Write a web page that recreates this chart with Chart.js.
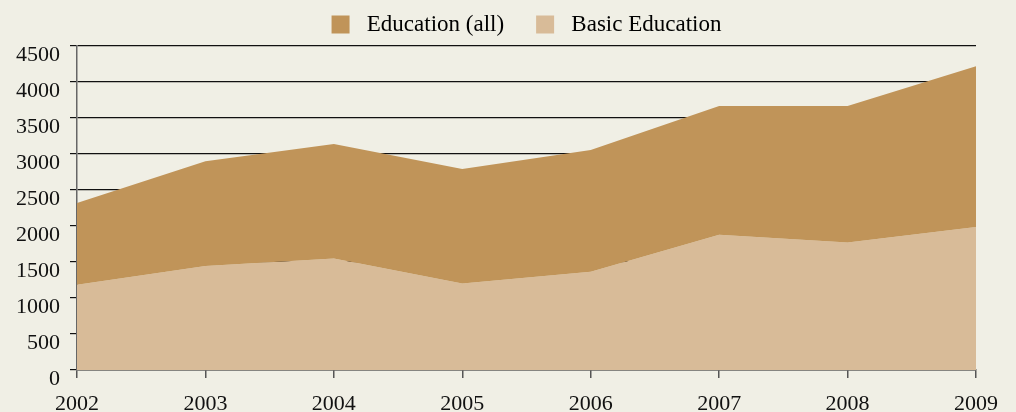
<!DOCTYPE html>
<html>
<head>
<meta charset="utf-8">
<script src="https://cdn.jsdelivr.net/npm/chart.js@4/dist/chart.umd.min.js"></script>
<style>
  html, body { margin: 0; padding: 0; background: #f0efe5; }
  canvas { display: block; }
</style>
</head>
<body>
<canvas id="chart" width="1016" height="412"></canvas>
<script>
const years = ['2002', '2003', '2004', '2005', '2006', '2007', '2008', '2009'];
const educationAll = [2320, 2900, 3140, 2790, 3055, 3665, 3665, 4220];
const basicEducation = [1185, 1445, 1550, 1200, 1365, 1880, 1770, 1985];
const yTicks = [0, 500, 1000, 1500, 2000, 2500, 3000, 3500, 4000, 4500];

const darkColor = '#c09459';
const lightColor = '#d8bb98';
const font = 'Liberation Serif, Times New Roman, serif';

const ctx = document.getElementById('chart').getContext('2d');

const chart = new Chart(ctx, {
  type: 'line',
  data: {
    labels: years,
    datasets: [
      {
        label: 'Education (all)',
        data: educationAll,
        backgroundColor: darkColor,
        borderWidth: 0,
        pointRadius: 0,
        fill: '+1',
        tension: 0
      },
      {
        label: 'Basic Education',
        data: basicEducation,
        backgroundColor: lightColor,
        borderWidth: 0,
        pointRadius: 0,
        fill: 'origin',
        tension: 0
      }
    ]
  },
  options: {
    responsive: false,
    animation: false,
    layout: { padding: { top: 4, right: 40, left: 0, bottom: 0 } },
    plugins: {
      tooltip: { enabled: false },
      legend: {
        position: 'top',
        fullSize: false,
        labels: {
          boxWidth: 18,
          boxHeight: 18,
          padding: 9,
          color: '#111',
          font: { family: font, size: 23 },
          // extra spaces widen the gap between the two entries
          generateLabels: chart => chart.data.datasets.map((ds, i) => ({
            text: ' ' + ds.label + (i === 0 ? '    ' : ''),
            fillStyle: ds.backgroundColor,
            strokeStyle: 'rgba(0,0,0,0)',
            lineWidth: 0,
            datasetIndex: i,
            hidden: false
          }))
        }
      }
    },
    scales: {
      x: {
        offset: false,
        afterFit: scale => { scale.height = 42; },
        border: { color: '#555', width: 1.5 },
        grid: { drawOnChartArea: false, drawTicks: true, tickLength: 8, color: '#555', lineWidth: 1.5 },
        ticks: { color: '#111', padding: 13, maxRotation: 0, font: { family: font, size: 22 } }
      },
      y: {
        min: 0,
        max: 4500,
        afterFit: scale => { scale.width = 77; },
        afterBuildTicks: scale => { scale.ticks = yTicks.map(v => ({ value: v })); },
        border: { color: '#666', width: 1.5 },
        grid: { color: '#111', lineWidth: 1.2, drawTicks: true, tickLength: 7 },
        ticks: {
          color: '#111',
          padding: 10,
          labelOffset: 9,
          font: { family: font, size: 22 },
          callback: value => String(value)
        }
      }
    }
  }
});
</script>
</body>
</html>
